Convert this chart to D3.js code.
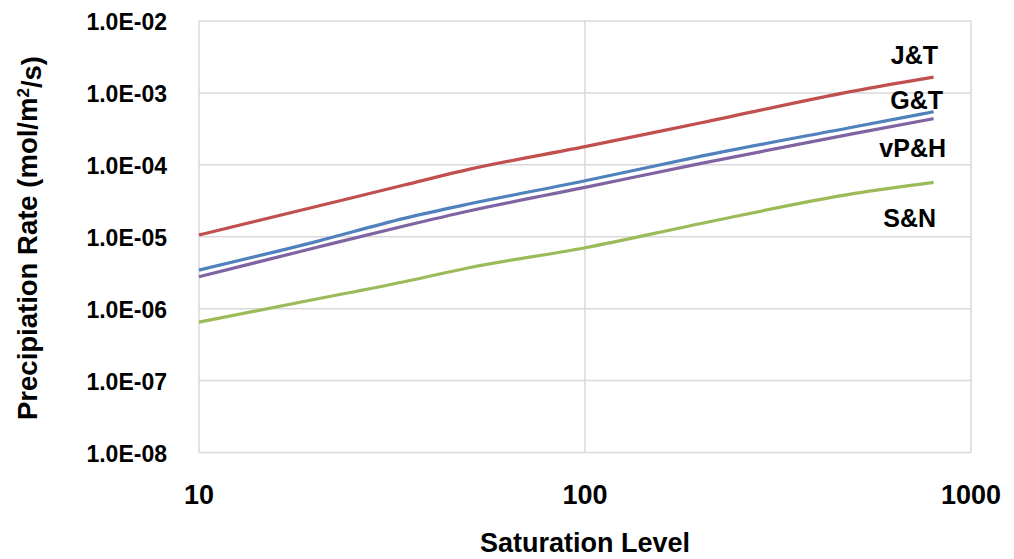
<!DOCTYPE html>
<html>
<head>
    <title>Precipitation rate</title>
    <meta charset="utf-8">
    <script src="https://cdn.jsdelivr.net/npm/d3@7"></script>
    <style>
        body { margin: 0; background: #fff; }
        text { font-family: "Liberation Sans", Arial, sans-serif; font-weight: bold; fill: #000; }
        .grid line { stroke: #d9d9d9; stroke-width: 1.5px; }
        .line { fill: none; stroke-width: 3.2px; stroke-linejoin: round; }
    </style>
</head>
<body>
<div id="chart"></div>
<script>
    // saturation level sample points
    const satLevels = [10, 20, 34, 50, 100, 200, 500, 800];

    // precipitation rate (mol/m2/s)
    const jtRates  = [1.06e-5, 2.61e-5, 5.24e-5, 8.65e-5, 1.79e-4, 3.85e-4, 1.07e-3, 1.66e-3];
    const gtRates  = [3.44e-6, 8.5e-6, 1.80e-5, 2.85e-5, 6.0e-5, 1.32e-4, 3.39e-4, 5.48e-4];
    const vphRates = [2.78e-6, 7.03e-6, 1.41e-5, 2.28e-5, 4.86e-5, 1.05e-4, 2.74e-4, 4.39e-4];
    const snRates  = [6.5e-7, 1.35e-6, 2.37e-6, 3.71e-6, 7.03e-6, 1.53e-5, 4.0e-5, 5.7e-5];

    const seriesNames = ["J&T", "G&T", "vP&H", "S&N"];
    const seriesColors = ["#c0504d", "#4f81bd", "#8064a2", "#9bbb59"];
    const seriesRates = [jtRates, gtRates, vphRates, snRates];

    const xTicks = [10, 100, 1000];
    const yTicks = [1e-8, 1e-7, 1e-6, 1e-5, 1e-4, 1e-3, 1e-2];
    const yTickLabels = ["1.0E-08", "1.0E-07", "1.0E-06", "1.0E-05", "1.0E-04", "1.0E-03", "1.0E-02"];

    const width = 1014, height = 559;
    const margin = {top: 21, right: 43, bottom: 106.5, left: 199};

    const svg = d3.select("#chart").append("svg")
        .attr("width", width)
        .attr("height", height);

    const x = d3.scaleLog().domain([10, 1000]).range([margin.left, width - margin.right]);
    const y = d3.scaleLog().domain([1e-8, 1e-2]).range([height - margin.bottom, margin.top]);

    // gridlines
    const grid = svg.append("g").attr("class", "grid");
    grid.selectAll(".gy").data(yTicks).enter().append("line")
        .attr("x1", x(10)).attr("x2", x(1000))
        .attr("y1", d => y(d)).attr("y2", d => y(d));
    grid.selectAll(".gx").data(xTicks).enter().append("line")
        .attr("x1", d => x(d)).attr("x2", d => x(d))
        .attr("y1", y(1e-8)).attr("y2", y(1e-2));

    // tick labels
    svg.append("g").selectAll("text").data(yTicks).enter().append("text")
        .attr("x", x(10) - 32)
        .attr("y", d => y(d) + 1)
        .attr("dy", "0.35em")
        .attr("text-anchor", "end")
        .style("font-size", "23px")
        .text((d, i) => yTickLabels[i]);

    svg.append("g").selectAll("text").data(xTicks).enter().append("text")
        .attr("x", d => x(d))
        .attr("y", 495)
        .attr("dy", "0.35em")
        .attr("text-anchor", "middle")
        .style("font-size", "27px")
        .text(d => d);

    // axis titles
    svg.append("text")
        .attr("x", (x(10) + x(1000)) / 2)
        .attr("y", 543)
        .attr("dy", "0.35em")
        .attr("text-anchor", "middle")
        .style("font-size", "27px")
        .text("Saturation Level");

    const yTitle = svg.append("text")
        .attr("transform", "translate(27,238) rotate(-90)")
        .attr("dy", "0.35em")
        .attr("text-anchor", "middle")
        .style("font-size", "27.5px");
    yTitle.append("tspan").text("Precipiation Rate (mol/m");
    yTitle.append("tspan").attr("dy", "-0.45em").style("font-size", "17px").text("2");
    yTitle.append("tspan").attr("dy", "0.45em").text("/s)");

    // lines
    const line = d3.line()
        .curve(d3.curveMonotoneX)
        .x(d => x(d[0]))
        .y(d => y(d[1]));

    seriesRates.forEach((rates, i) => {
        svg.append("path")
            .attr("class", "line")
            .attr("stroke", seriesColors[i])
            .attr("d", line(satLevels.map((s, j) => [s, rates[j]])));
    });

    // series labels
    const labelPos = [
        {xr: 938, yc: 55},
        {xr: 943, yc: 100},
        {xr: 946, yc: 148},
        {xr: 936, yc: 218}
    ];
    seriesNames.forEach((name, i) => {
        svg.append("text")
            .attr("x", labelPos[i].xr)
            .attr("y", labelPos[i].yc)
            .attr("dy", "0.35em")
            .attr("text-anchor", "end")
            .style("font-size", "25px")
            .text(name);
    });
</script>
</body>
</html>
